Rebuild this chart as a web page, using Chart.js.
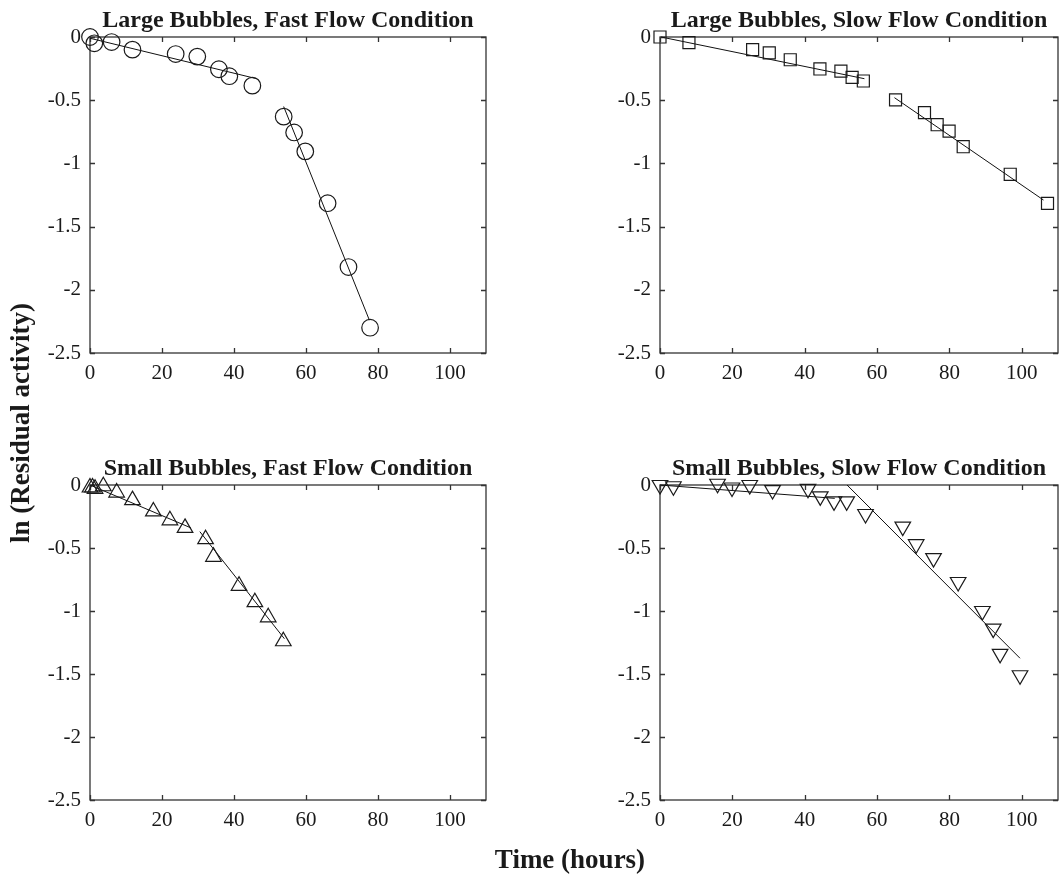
<!DOCTYPE html>
<html>
<head>
<meta charset="utf-8">
<script src="https://cdn.jsdelivr.net/npm/chart.js@4.4.1/dist/chart.umd.min.js"></script>
<style>
    html, body { margin: 0; padding: 0; background: #fff; }
    body { width: 1059px; height: 874px; position: relative; overflow: hidden; font-family: 'Liberation Serif', 'Times New Roman', serif; }
    canvas { position: absolute; }
    .axis-label { position: absolute; font-weight: bold; font-size: 27px; color: #1a1a1a; text-align: center; white-space: nowrap; }
    #xLabel { left: 420px; width: 300px; top: 846px; line-height: 27px; }
    #yLabel { left: -130px; width: 300px; top: 408px; height: 30px; line-height: 30px; transform: rotate(-90deg); }
</style>
</head>
<body>
<canvas id="largeFast" width="510" height="400" style="left:0;top:0"></canvas>
<canvas id="largeSlow" width="505" height="400" style="left:570px;top:0"></canvas>
<canvas id="smallFast" width="510" height="400" style="left:0;top:448px"></canvas>
<canvas id="smallSlow" width="505" height="400" style="left:570px;top:448px"></canvas>
<div class="axis-label" id="xLabel">Time (hours)</div>
<div class="axis-label" id="yLabel">ln (Residual activity)</div>
<script>
// axis ticks (shared by all four panels)
const xTicks = [0, 20, 40, 60, 80, 100];
const yTicks = [0, -0.5, -1, -1.5, -2, -2.5];

// Large bubbles, fast flow (circles)
const largeFastTime = [0, 1.2, 6.0, 11.8, 23.8, 29.8, 35.8, 38.7, 45.1, 53.8, 56.7, 59.8, 66.0, 71.8, 77.8];
const largeFastLn   = [0, -0.05, -0.04, -0.10, -0.135, -0.155, -0.255, -0.31, -0.385, -0.63, -0.755, -0.905, -1.315, -1.82, -2.30];
const largeFastFitA = [[0, 46.3], [-0.01, -0.33]];
const largeFastFitB = [[53.8, 77.6], [-0.55, -2.24]];

// Large bubbles, slow flow (squares)
const largeSlowTime = [0, 8.0, 25.6, 30.2, 36.0, 44.2, 50.0, 53.1, 56.2, 65.1, 73.1, 76.6, 79.9, 83.8, 96.8, 107.1];
const largeSlowLn   = [0, -0.045, -0.10, -0.125, -0.18, -0.253, -0.27, -0.32, -0.348, -0.498, -0.599, -0.694, -0.744, -0.868, -1.086, -1.316];
const largeSlowFitA = [[0.3, 56.5], [0, -0.33]];
const largeSlowFitB = [[64.8, 106], [-0.48, -1.29]];

// Small bubbles, fast flow (up triangles)
const smallFastTime = [0, 0.7, 1.4, 3.7, 7.4, 11.8, 17.6, 22.2, 26.4, 32.1, 34.3, 41.4, 45.8, 49.5, 53.7];
const smallFastLn   = [-0.02, -0.02, -0.03, -0.01, -0.06, -0.12, -0.21, -0.28, -0.34, -0.43, -0.57, -0.80, -0.93, -1.05, -1.24];
const smallFastFitA = [[0, 28], [0, -0.34]];
const smallFastFitB = [[30.5, 54], [-0.37, -1.22]];

// Small bubbles, slow flow (down triangles)
const smallSlowTime = [0, 3.7, 15.9, 19.9, 24.8, 31.1, 40.9, 44.3, 48.1, 51.6, 56.8, 67.1, 70.8, 75.6, 82.4, 89.1, 92.1, 94.0, 99.5];
const smallSlowLn   = [0, -0.01, 0.01, -0.02, 0, -0.04, -0.03, -0.09, -0.13, -0.13, -0.23, -0.33, -0.47, -0.58, -0.77, -1.00, -1.14, -1.34, -1.51];
const smallSlowFitA = [[0, 48.3], [0, -0.106]];
const smallSlowFitB = [[51.7, 99.5], [0, -1.375]];

const SERIF = "'Liberation Serif', 'Times New Roman', serif";
const INK = '#1a1a1a';

const pts = (t, v) => t.map((x, i) => ({ x, y: v[i] }));

// MATLAB-like box with inward ticks on all four sides
const frameTicks = {
    id: 'frameTicks',
    beforeDatasetsDraw(chart) {
        const { ctx, chartArea: a, scales: { x, y } } = chart;
        const len = 5;
        ctx.save();
        ctx.strokeStyle = '#333';
        ctx.lineWidth = 1.3;
        ctx.strokeRect(a.left, a.top, a.right - a.left, a.bottom - a.top);
        ctx.beginPath();
        x.ticks.forEach(t => {
            const px = Math.round(x.getPixelForValue(t.value)) + 0.5;
            ctx.moveTo(px, a.bottom); ctx.lineTo(px, a.bottom - len);
            ctx.moveTo(px, a.top); ctx.lineTo(px, a.top + len);
        });
        y.ticks.forEach(t => {
            const py = Math.round(y.getPixelForValue(t.value)) + 0.5;
            ctx.moveTo(a.left, py); ctx.lineTo(a.left + len, py);
            ctx.moveTo(a.right, py); ctx.lineTo(a.right - len, py);
        });
        ctx.stroke();
        ctx.restore();
    }
};

function makePanel(id, title, time, ln, fits, marker, padRight, padBottom) {
    const markerSet = {
        data: pts(time, ln),
        showLine: false,
        pointStyle: marker.style,
        pointRotation: marker.rotation || 0,
        pointRadius: marker.radius,
        pointBorderColor: INK,
        pointBorderWidth: 1.2,
        pointBackgroundColor: 'rgba(0,0,0,0)',
        clip: false
    };
    const fitSets = fits.map(f => ({
        data: pts(f[0], f[1]),
        showLine: true,
        borderColor: '#111',
        borderWidth: 1,
        pointRadius: 0,
        clip: false
    }));

    return new Chart(document.getElementById(id), {
        type: 'scatter',
        data: { datasets: [markerSet, ...fitSets] },
        plugins: [frameTicks],
        options: {
            responsive: false, animation: false, devicePixelRatio: 1, events: [],
            layout: { padding: { left: 0, right: padRight, top: 0, bottom: padBottom } },
            plugins: {
                legend: { display: false },
                tooltip: { enabled: false },
                title: {
                    display: true, text: title, fullSize: false, color: INK,
                    font: { family: SERIF, size: 24, weight: 'bold' },
                    padding: { top: 6, bottom: 2.2 }
                }
            },
            scales: {
                x: {
                    type: 'linear', min: 0, max: 110,
                    afterBuildTicks: s => { s.ticks = xTicks.map(value => ({ value })); },
                    afterFit: s => { s.height = 40; s.paddingLeft = 0; s.paddingRight = 0; },
                    grid: { display: false, drawTicks: false },
                    border: { display: false },
                    ticks: { color: INK, font: { family: SERIF, size: 21 }, padding: 8, maxRotation: 0 }
                },
                y: {
                    type: 'linear', min: -2.5, max: 0,
                    afterBuildTicks: s => { s.ticks = yTicks.map(value => ({ value })); },
                    afterFit: s => { s.width = 90; s.paddingTop = 0; s.paddingBottom = 0; },
                    grid: { display: false, drawTicks: false },
                    border: { display: false },
                    ticks: { color: INK, font: { family: SERIF, size: 21 }, padding: 9, callback: v => String(v) }
                }
            }
        }
    });
}

makePanel('largeFast', 'Large Bubbles, Fast Flow Condition', largeFastTime, largeFastLn,
    [largeFastFitA, largeFastFitB], { style: 'circle', radius: 8.3 }, 24, 7);
makePanel('largeSlow', 'Large Bubbles, Slow Flow Condition', largeSlowTime, largeSlowLn,
    [largeSlowFitA, largeSlowFitB], { style: 'rect', radius: 8.5 }, 17, 7);
makePanel('smallFast', 'Small Bubbles, Fast Flow Condition', smallFastTime, smallFastLn,
    [smallFastFitA, smallFastFitB], { style: 'triangle', radius: 9 }, 24, 8);
makePanel('smallSlow', 'Small Bubbles, Slow Flow Condition', smallSlowTime, smallSlowLn,
    [smallSlowFitA, smallSlowFitB], { style: 'triangle', rotation: 180, radius: 9 }, 17, 8);
</script>
</body>
</html>
